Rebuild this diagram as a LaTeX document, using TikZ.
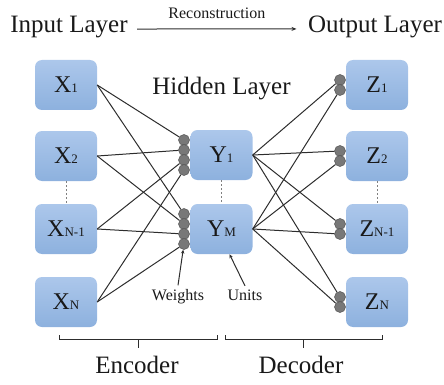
\documentclass[tikz,border=0pt]{standalone}
\usepackage{fontspec}
\setmainfont{Liberation Serif}
\usetikzlibrary{arrows.meta}

\definecolor{boxtop}{RGB}{172,199,235}
\definecolor{boxbot}{RGB}{141,177,222}
\definecolor{dotgray}{RGB}{120,120,120}
\definecolor{linegray}{RGB}{45,45,45}

% small index next to the unit letter
\newcommand{\idx}[1]{{\fontsize{13}{13}\selectfont #1}}

\tikzset{
  unit/.style={rectangle, rounded corners=7pt, minimum width=62pt, minimum height=50pt,
    top color=boxtop, bottom color=boxbot, draw=none, inner sep=0pt,
    font=\fontsize{24}{24}\selectfont, text=black!90},
  wdot/.style={circle, minimum size=11pt, inner sep=0pt, fill=dotgray,
    draw=dotgray!70!black, line width=0.5pt},
  link/.style={draw=linegray, line width=1pt},
  gap/.style={draw=gray, line width=0.7pt, dash pattern=on 2pt off 2pt},
  head/.style={font=\fontsize{25}{25}\selectfont, anchor=base, text=black!90},
  tag/.style={font=\fontsize{16}{16}\selectfont, anchor=base, text=black!90},
}

\begin{document}
\begin{tikzpicture}[x=1pt, y=-1pt]
\useasboundingbox (0,0) rectangle (444,385);

% Titles on top
\node[head] (inp) at (69,33) {Input Layer};
\node[head] (out) at (375,33) {Output Layer};
\draw[link, -{Stealth[length=5pt, width=4pt]}] ([xshift=6pt, yshift=-1.5pt]inp.east) -- node[tag, anchor=south, above=6pt] {Reconstruction} ([xshift=-8pt, yshift=-1.5pt]out.west);
\node[head] (hid) at (221.5,95) {Hidden Layer};

% Input units
\node[unit] (x1) at (66,85) {X\idx{1}};
\node[unit] (x2) at (66,156) {X\idx{2}};
\node[unit] (xn1) at (66,229) {X\idx{N-1}};
\node[unit] (xn) at (66,302) {X\idx{N}};

% Hidden units
\node[unit] (y1) at (221.5,155) {Y\idx{1}};
\node[unit] (ym) at (221.5,229) {Y\idx{M}};

% Output units
\node[unit] (z1) at (377,85) {Z\idx{1}};
\node[unit] (z2) at (377,156) {Z\idx{2}};
\node[unit] (zn1) at (377,229) {Z\idx{N-1}};
\node[unit] (zn) at (377,302) {Z\idx{N}};

% Dotted gaps
\draw[gap] (x2.south) -- (xn1.north);
\draw[gap] (y1.south) -- (ym.north);
\draw[gap] (z2.south) -- (zn1.north);

% Weights in front of the hidden units
\node[wdot] (y1w1) at (184,140) {};
\node[wdot] (y1w2) at (184,150) {};
\node[wdot] (y1w3) at (184,160) {};
\node[wdot] (y1w4) at (184,170) {};
\node[wdot] (ymw1) at (184,214) {};
\node[wdot] (ymw2) at (184,224) {};
\node[wdot] (ymw3) at (184,234) {};
\node[wdot] (ymw4) at (184,244) {};

% Weights in front of the output units
\node[wdot] (z1w1) at (340,80) {};
\node[wdot] (z1w2) at (340,90) {};
\node[wdot] (z2w1) at (340,151) {};
\node[wdot] (z2w2) at (340,161) {};
\node[wdot] (zn1w1) at (340,224) {};
\node[wdot] (zn1w2) at (340,234) {};
\node[wdot] (znw1) at (340,297) {};
\node[wdot] (znw2) at (340,307) {};

% Encoder links
\draw[link] (x1.east) -- (y1w1);
\draw[link] (x1.east) -- (ymw1);
\draw[link] (x2.east) -- (y1w2);
\draw[link] (x2.east) -- (ymw2);
\draw[link] (xn1.east) -- (y1w3);
\draw[link] (xn1.east) -- (ymw3);
\draw[link] (xn.east) -- (y1w4);
\draw[link] (xn.east) -- (ymw4);

% Decoder links
\draw[link] (y1.east) -- (z1w1);
\draw[link] (ym.east) -- (z1w2);
\draw[link] (y1.east) -- (z2w1);
\draw[link] (ym.east) -- (z2w2);
\draw[link] (y1.east) -- (zn1w1);
\draw[link] (ym.east) -- (zn1w2);
\draw[link] (y1.east) -- (znw1);
\draw[link] (ym.east) -- (znw2);

% Pointers to weights and units
\node[tag] (wts) at (178,300) {Weights};
\node[tag] (uni) at (245,300) {Units};
\draw[link, -{Stealth[length=4pt, width=3.5pt]}] (wts.north) -- (ymw4);
\draw[link, -{Stealth[length=4pt, width=3.5pt]}] (uni.north) -- ([xshift=8pt]ym.south);

% Brackets under the two halves
\draw[link] (59,335) -- (59,339) -- (217,339) -- (217,335);
\draw[link] (138,339) -- (138,348);
\draw[link] (225,335) -- (225,339) -- (382,339) -- (382,335);
\draw[link] (303,339) -- (303,348);
\node[head] (enc) at (137,373) {Encoder};
\node[head] (dec) at (301,373) {Decoder};
\end{tikzpicture}
\end{document}
